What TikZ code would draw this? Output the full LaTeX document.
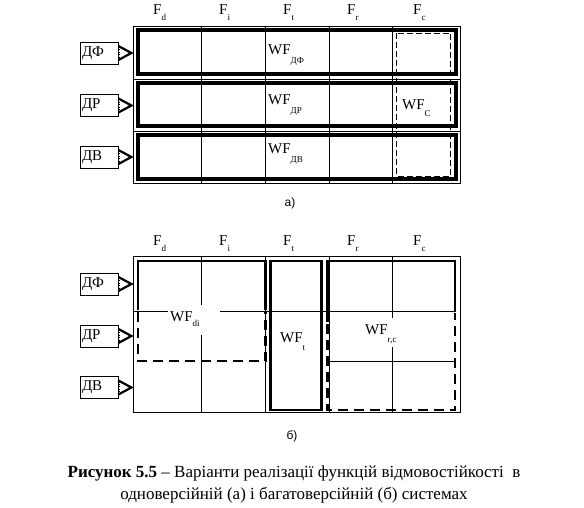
\documentclass[tikz,border=0pt]{standalone}
\usepackage{fontspec}
\setmainfont{Liberation Serif}
\newfontfamily\arialfont{Liberation Sans}
\usetikzlibrary{positioning,calc}

\tikzset{
  gridline/.style={line width=0.8pt},
  boldframe/.style={line width=3.8pt},
  boldedge/.style={line width=2.7pt},
  bolddash/.style={line width=2.7pt, dash pattern=on 10pt off 6pt},
  thindash/.style={line width=0.8pt, dash pattern=on 6pt off 3pt},
  srcbox/.style={draw, line width=0.8pt, minimum width=38pt, minimum height=22pt,
    inner sep=1pt, text width=34pt, align=left, font=\fontsize{15}{15}\selectfont},
  chevron/.style={line width=2.2pt, line join=miter},
  collabel/.style={anchor=base west, inner sep=0pt, font=\fontsize{15}{15}\selectfont},
  wflabel/.style={anchor=base west, inner sep=0pt, font=\fontsize{15}{15}\selectfont},
  partlabel/.style={font=\arialfont\fontsize{12}{12}\selectfont}
}
\newcommand{\lowsub}[2][6pt]{\raisebox{-#1}{\fontsize{9}{9}\selectfont #2}}

\begin{document}
\begin{tikzpicture}[x=1pt, y=-1pt]
\useasboundingbox (0,0) rectangle (584,508);

% ---- part a) : single version
\draw[gridline] (133,26) rectangle (460.7,183);
\draw[gridline] (133,79) -- (460.7,79);
\draw[gridline] (133,131) -- (460.7,131);
\foreach \xx in {201.7,265.7,329,392.7}
  \draw[gridline] (\xx,26) -- (\xx,183);
\foreach \yt/\yb in {30/74, 83/126, 135/179}
  \draw[boldframe] (138,\yt) rectangle (456,\yb);
\draw[thindash] (396.7,33) rectangle (450.7,176);

\foreach \xx/\s in {153/d, 219/i, 283/t, 347/r, 413/c}
  \node[collabel] at (\xx,15) {F\lowsub{\s}};

\foreach \nm/\txt/\yy in {df/ДФ/53, dr/ДР/105.5, dv/ДВ/157}{
  \node[srcbox] (a\nm) at (99,\yy) {\txt};
  \draw[chevron] ($(a\nm.east)+(0,-7)$) -- ($(a\nm.east)+(13,0)$) -- ($(a\nm.east)+(0,7)$);
  \draw[dotted] ($(a\nm.east)+(1,-6)$) -- ($(a\nm.east)+(1,6)$);
}

\node[wflabel] (wfdf) at (268,55) {WF\lowsub[9pt]{ДФ}};
\node[wflabel] (wfdr) at (268,105) {WF\lowsub[9pt]{ДР}};
\node[wflabel] (wfdv) at (268,154) {WF\lowsub[9pt]{ДВ}};
\node[wflabel] (wfc) at (402,110) {WF\lowsub[7pt]{C}};

\node[partlabel] (pa) at (290,203) {а)};

% ---- part b) : multi version
\draw[gridline] (133,256) rectangle (460.7,412.7);
\draw[gridline] (201.7,256) -- (201.7,305) (201.7,335) -- (201.7,412.7);
\draw[gridline] (265.7,256) -- (265.7,412.7);
\draw[gridline] (329,256) -- (329,412.7);
\draw[gridline] (392.7,256) -- (392.7,318) (392.7,347) -- (392.7,412.7);
\draw[gridline] (133,311.7) -- (168,311.7) (220,311.7) -- (455,311.7);
\draw[gridline] (329,361) -- (455,361);

% WF_di
\draw[boldedge] (138,310) -- (138,261) -- (265.7,261) -- (265.7,310);
\draw[bolddash] (138,312) -- (138,361) -- (265.7,361) -- (265.7,312);
% WF_t
\draw[boldedge] (270.5,261) rectangle (321.7,410);
% WF_rc
\draw[boldedge] (327.5,322) -- (327.5,261) -- (455,261) -- (455,311.7);
\draw[bolddash] (327.5,324) -- (327.5,410) -- (455,410) -- (455,313);

\foreach \xx/\s in {153/d, 219/i, 283/t, 347/r, 413/c}
  \node[collabel] at (\xx,245) {F\lowsub{\s}};

\foreach \nm/\txt/\yy in {df/ДФ/284, dr/ДР/336, dv/ДВ/387.5}{
  \node[srcbox] (b\nm) at (99,\yy) {\txt};
  \draw[chevron] ($(b\nm.east)+(0,-7)$) -- ($(b\nm.east)+(13,0)$) -- ($(b\nm.east)+(0,7)$);
  \draw[dotted] ($(b\nm.east)+(1,-6)$) -- ($(b\nm.east)+(1,6)$);
}

\node[wflabel] (wfdi) at (170,321.7) {WF\lowsub[5pt]{di}};
\node[wflabel] (wft) at (280,342.7) {WF\lowsub[8pt]{t}};
\node[wflabel] (wfrc) at (365,334) {WF\lowsub[8pt]{r,c}};

\node[partlabel] (pb) at (292,436) {б)};

% ---- caption
\node[align=center, font=\fontsize{17}{22}\selectfont] (cap) at (294,484)
  {\textbf{Рисунок 5.5} – Варіанти реалізації функцій відмовостійкості\ \ в\\
   одноверсійній (а) і багатоверсійній (б) системах};
\end{tikzpicture}
\end{document}
